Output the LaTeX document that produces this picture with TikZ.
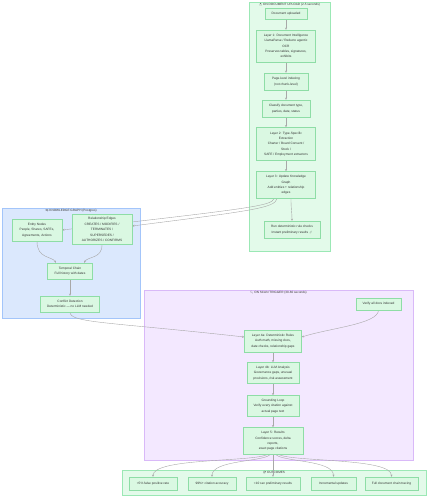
\documentclass[tikz,border=0pt]{standalone}
\usepackage{fontspec}
\setmainfont{Liberation Sans}
\newfontfamily\emo{Noto Emoji}
\usetikzlibrary{arrows.meta}
\definecolor{nodefill}{HTML}{DAF8E2}
\definecolor{nodeline}{HTML}{8EDDA6}
\definecolor{upfill}{HTML}{E3FAEA}
\definecolor{upline}{HTML}{9BE8B5}
\definecolor{kgfill}{HTML}{DBE8FD}
\definecolor{kgline}{HTML}{A3C5FA}
\definecolor{scfill}{HTML}{F3E8FF}
\definecolor{scline}{HTML}{D9B9F8}
\definecolor{edgec}{HTML}{A8A8A8}
\definecolor{txt}{HTML}{333333}
\newcommand{\emj}[1]{{\emo\fontsize{2.6}{3}\selectfont #1}}
\pgfdeclarelayer{clus}
\pgfdeclarelayer{edgelayer}
\pgfsetlayers{clus,edgelayer,main}
\begin{document}
\begin{tikzpicture}[x=1pt,y=-1pt,
  box/.style={draw=nodeline, fill=nodefill, line width=0.45pt, align=center, inner sep=0pt,
    font=\fontsize{3.2}{5.4}\selectfont, text=txt},
  edge/.style={draw=edgec, line width=0.4pt, -{Stealth[length=2.2pt,width=2pt]}},
  ctitle/.style={font=\fontsize{3.1}{4}\selectfont, text=txt, inner sep=0pt},
  clusbox/.style={line width=0.5pt}]
\useasboundingbox (0,0) rectangle (431,500);

% ---------- nodes: upload ----------
\node[box, minimum width=42pt, minimum height=11pt] (up1) at (286,13.5) {Document uploaded};
\node[box, minimum width=59pt, minimum height=32pt] (up2) at (286,46) {Layer 1: Document Intelligence\\LlamaParse / Reducto agentic\\OCR\\Preserves tables, signatures,\\exhibits};
\node[box, minimum width=44pt, minimum height=17pt] (up3) at (286,81.5) {Page-level indexing\\(not chunk-level)};
\node[box, minimum width=48pt, minimum height=17pt] (up4) at (286,108.5) {Classify document type,\\parties, date, status};
\node[box, minimum width=59pt, minimum height=33pt] (up5) at (286,144) {Layer 2: Type-Specific\\Extraction\\Charter / Board Consent /\\Stock /\\SAFE / Employment extractors};
\node[box, minimum width=59pt, minimum height=27pt] (up6) at (286,185) {Layer 3: Update Knowledge\\Graph\\Add entities + relationship\\edges};
\node[box, minimum width=56pt, minimum height=17pt] (up7) at (292,229.5) {Run deterministic rule checks\\Instant preliminary results \emj{⚡}};

% ---------- nodes: knowledge graph ----------
\node[box, minimum width=50pt, minimum height=22pt] (kg1) at (37,230) {Entity Nodes\\People, Shares, SAFEs,\\Agreements, Actions};
\node[box, minimum width=60pt, minimum height=30pt] (kg2) at (102,229.5) {Relationship Edges\\CREATES / MODIFIES /\\TERMINATES /\\SUPERSEDES /\\AUTHORIZES / CONFIRMS};
\node[box, minimum width=45pt, minimum height=16pt] (kg3) at (70,271) {Temporal Chain\\Full history with dates};
\node[box, minimum width=59pt, minimum height=16pt] (kg4) at (70,304) {Conflict Detection\\Deterministic — no LLM needed};

% ---------- nodes: scan ----------
\node[box, minimum width=45pt, minimum height=12pt] (sc0) at (378.5,304) {Verify all docs indexed};
\node[box, minimum width=57pt, minimum height=22pt] (sc1) at (273,341) {Layer 4a: Deterministic Rules\\Auth math, missing docs,\\date checks, relationship gaps};
\node[box, minimum width=52pt, minimum height=21pt] (sc2) at (273,373) {Layer 4b: LLM Analysis\\Governance gaps, unusual\\provisions, risk assessment};
\node[box, minimum width=52pt, minimum height=21pt] (sc3) at (273,406) {Grounding Loop\\Verify every citation against\\actual page text};
\node[box, minimum width=60pt, minimum height=27pt] (sc4) at (273,441) {Layer 5: Results\\Confidence scores, delta\\reports,\\exact page citations};

% ---------- nodes: outcomes ----------
\node[box, minimum width=48pt, minimum height=13pt] (oc1) at (153,483.5) {<5\% false positive rate};
\node[box, minimum width=48pt, minimum height=13pt] (oc2) at (212,483.5) {99\%+ citation accuracy};
\node[box, minimum width=54pt, minimum height=13pt] (oc3) at (273,483.5) {<10 sec preliminary results};
\node[box, minimum width=45pt, minimum height=13pt] (oc4) at (333.5,483.5) {Incremental updates};
\node[box, minimum width=53pt, minimum height=13pt] (oc5) at (391.5,483.5) {Full document chain tracing};

% ---------- clusters ----------
\begin{pgfonlayer}{clus}
  \path[clusbox, fill=upfill, draw=upline] (249,2) rectangle (330,251);
  \node[ctitle] (t1) at (289.5,5) {\emj{📤} ON DOCUMENT UPLOAD (2-5 seconds)};
  \path[clusbox, fill=kgfill, draw=kgline] (2,208) rectangle (140,318);
  \node[ctitle] (t2) at (71,211) {\emj{🧠} KNOWLEDGE GRAPH (Postgres)};
  \path[clusbox, fill=scfill, draw=scline] (144,290) rectangle (413,460);
  \node[ctitle] (t3) at (278.5,292.8) {\emj{🔍} ON SCAN TRIGGER (30-60 seconds)};
  \path[clusbox, fill=upfill, draw=upline] (122,470) rectangle (426,495);
  \node[ctitle] (t4) at (274,472.8) {\emj{🎯} OUTCOMES};
\end{pgfonlayer}

% ---------- edges ----------
\begin{pgfonlayer}{edgelayer}
  \draw[edge] (up1) -- (up2);
  \draw[edge] (up2) -- (up3);
  \draw[edge] (up3) -- (up4);
  \draw[edge] (up4) -- (up5);
  \draw[edge] (up5) -- (up6);
  \draw[edge] ([xshift=5pt]up6.south) .. controls (291,210) and (292,212) .. (up7.north);
  \draw[edge] ([xshift=-12pt]up6.south) .. controls (272,206) and (245,209) .. (kg1.east);
  \draw[edge] ([xshift=-9pt]up6.south) .. controls (275,208) and (250,211) .. ([yshift=3.5pt]kg2.east);
  \draw[edge] (kg1.south) .. controls (37,259) and (52,256) .. ([xshift=-14pt]kg3.north);
  \draw[edge] (kg2.south) .. controls (102,259) and (88,256) .. ([xshift=14pt]kg3.north);
  \draw[edge] (kg3) -- (kg4);
  \draw[edge] (kg4.south) .. controls (70,323) and (110,322) .. ([yshift=4pt]sc1.west);
  \draw[edge] (sc0.south) .. controls (378,324) and (330,328) .. ([yshift=4pt]sc1.east);
  \draw[edge] (sc1) -- (sc2);
  \draw[edge] (sc2) -- (sc3);
  \draw[edge] (sc3) -- (sc4);
  \draw[edge] ([xshift=-6pt]sc4.south) .. controls (250,462) and (153,458) .. (oc1.north);
  \draw[edge] ([xshift=-3pt]sc4.south) .. controls (262,462) and (212,460) .. (oc2.north);
  \draw[edge] (sc4.south) -- (oc3.north);
  \draw[edge] ([xshift=3pt]sc4.south) .. controls (284,462) and (333.5,460) .. (oc4.north);
  \draw[edge] ([xshift=6pt]sc4.south) .. controls (296,462) and (391.5,458) .. (oc5.north);
\end{pgfonlayer}
\end{tikzpicture}
\end{document}
